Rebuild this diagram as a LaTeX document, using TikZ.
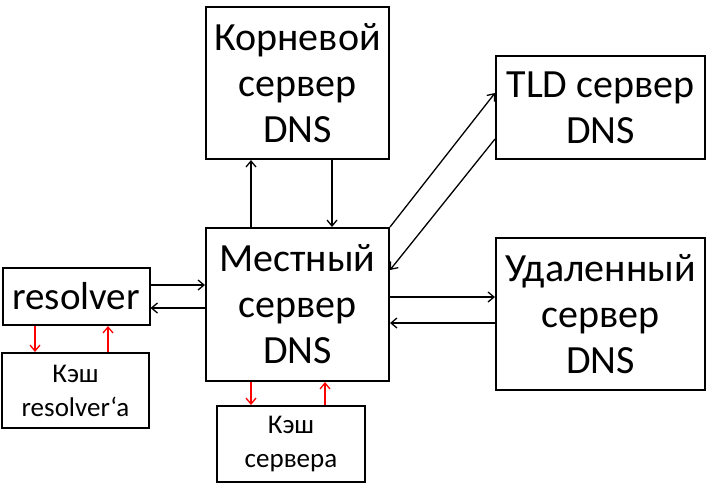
\documentclass[tikz,border=0pt]{standalone}
\usepackage{fontspec}
\setmainfont{Carlito}
\usetikzlibrary{arrows.meta}
\begin{document}
\begin{tikzpicture}[x=1pt,y=-1pt,
  box/.style={draw,line width=2pt,align=center,inner sep=0pt,font=\fontsize{40}{46}\selectfont},
  smallbox/.style={draw,line width=2pt,align=center,inner sep=0pt,font=\fontsize{27}{34}\selectfont},
  arr/.style={line width=1.3pt,-{Straight Barb[length=6pt,width=10pt]}},
  redarr/.style={arr,red}]
\useasboundingbox (0,0) rectangle (718,485);
\node[box,minimum width=183pt,minimum height=152pt] (root) at (297.5,83) {Корневой\\сервер\\DNS};
\node[box,minimum width=183pt,minimum height=153pt] (local) at (297.5,304.5) {Местный\\сервер\\DNS};
\node[box,font=\fontsize{39}{45}\selectfont,minimum width=147pt,minimum height=57pt] (resolver) at (76,296.5) {resolver};
\node[smallbox,minimum width=147pt,minimum height=75pt] (cres) at (75.5,390.5) {Кэш\\resolver‘a};
\node[smallbox,minimum width=148pt,minimum height=76pt] (cserv) at (291,444) {Кэш\\сервера};
\node[box,minimum width=209pt,minimum height=103pt] (tld) at (600.5,107.5) {TLD сервер\\DNS};
\node[box,minimum width=209pt,minimum height=152pt] (remote) at (600.5,314) {Удаленный\\сервер\\DNS};
% resolver <-> local
\draw[arr] (resolver.east |- 0,285) -- (local.west |- 0,285);
\draw[arr] (local.west |- 0,308) -- (resolver.east |- 0,308);
% resolver <-> cache
\draw[redarr] (resolver.south -| 35,0) -- (cres.north -| 35,0);
\draw[redarr] (cres.north -| 108,0) -- (resolver.south -| 108,0);
% local <-> cache server
\draw[redarr] (local.south -| 251,0) -- (cserv.north -| 251,0);
\draw[redarr] (cserv.north -| 325,0) -- (local.south -| 325,0);
% local <-> root
\draw[arr] (local.north -| 251,0) -- (root.south -| 251,0);
\draw[arr] (root.south -| 332,0) -- (local.north -| 332,0);
% local <-> tld
\draw[arr] (local.north east) -- (tld.west |- 0,93);
\draw[arr] (tld.west |- 0,139) -- (local.east |- 0,270);
% local <-> remote
\draw[arr] (local.east |- 0,297) -- (remote.west |- 0,297);
\draw[arr] (remote.west |- 0,323) -- (local.east |- 0,323);
\end{tikzpicture}
\end{document}
